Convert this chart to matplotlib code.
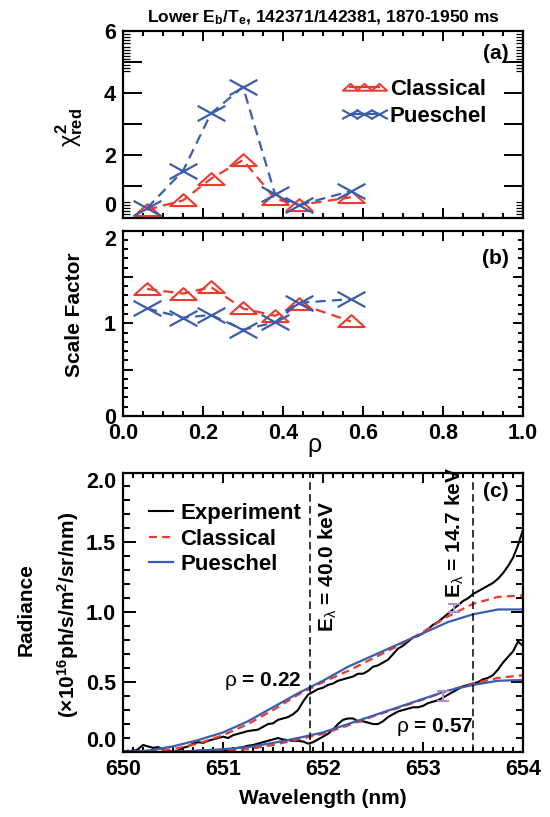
import numpy as np
import matplotlib
matplotlib.use("Agg")
import matplotlib.pyplot as plt
from matplotlib.path import Path
from matplotlib.ticker import MultipleLocator, FixedLocator, FuncFormatter
from matplotlib.lines import Line2D
from matplotlib import font_manager

# ---------------- data ----------------
rho = [0.06, 0.15, 0.22, 0.30, 0.38, 0.44, 0.57]
chi_classical = [0.25, 0.55, 1.25, 1.85, 0.60, 0.40, 0.65]
chi_pueschel = [0.30, 1.50, 3.35, 4.20, 0.75, 0.40, 0.85]
scale_classical = [1.37, 1.32, 1.39, 1.16, 1.08, 1.21, 1.02]
scale_pueschel = [1.16, 1.06, 1.09, 0.93, 1.01, 1.22, 1.26]

wl_exp = [650.00, 650.05, 650.10, 650.15, 650.20, 650.25, 650.30, 650.35, 650.40, 650.45,
          650.50, 650.55, 650.60, 650.65, 650.70, 650.75, 650.80, 650.85, 650.90, 650.95,
          651.00, 651.05, 651.10, 651.15, 651.20, 651.25, 651.30, 651.35, 651.40, 651.45,
          651.50, 651.55, 651.60, 651.65, 651.70, 651.75, 651.80, 651.85, 651.90, 651.95,
          652.00, 652.05, 652.10, 652.15, 652.20, 652.25, 652.30, 652.35, 652.40, 652.45,
          652.50, 652.55, 652.60, 652.65, 652.70, 652.75, 652.80, 652.85, 652.90, 652.95,
          653.00, 653.05, 653.10, 653.15, 653.20, 653.25, 653.30, 653.35, 653.40, 653.45,
          653.50, 653.55, 653.60, 653.65, 653.70, 653.75, 653.80, 653.85, 653.90, 653.95,
          654.00]
exp_022 = [0.00, 0.01, 0.00, 0.02, 0.05, 0.04, 0.03, 0.035, 0.02, 0.01,
           0.00, 0.01, 0.03, 0.04, 0.06, 0.07, 0.065, 0.08, 0.09, 0.10,
           0.11, 0.10, 0.12, 0.13, 0.14, 0.15, 0.155, 0.16, 0.18, 0.20,
           0.205, 0.23, 0.24, 0.25, 0.27, 0.30, 0.36, 0.41, 0.43, 0.45,
           0.46, 0.48, 0.49, 0.51, 0.52, 0.53, 0.54, 0.56, 0.56, 0.58,
           0.61, 0.62, 0.64, 0.66, 0.70, 0.74, 0.76, 0.79, 0.82, 0.83,
           0.85, 0.88, 0.91, 0.93, 0.96, 0.99, 1.02, 1.05, 1.08, 1.10,
           1.13, 1.15, 1.17, 1.19, 1.21, 1.24, 1.28, 1.33, 1.39, 1.48,
           1.59]
exp_057 = [0.00, 0.005, 0.01, 0.01, 0.005, 0.00, 0.005, 0.00, 0.00, 0.00,
           0.00, 0.00, 0.00, 0.005, 0.005, 0.01, 0.01, 0.005, 0.005, 0.01,
           0.01, 0.015, 0.02, 0.03, 0.035, 0.045, 0.05, 0.06, 0.07, 0.08,
           0.09, 0.10, 0.09, 0.085, 0.08, 0.08, 0.075, 0.06, 0.07, 0.09,
           0.11, 0.13, 0.16, 0.20, 0.23, 0.24, 0.24, 0.22, 0.22, 0.21,
           0.20, 0.20, 0.22, 0.25, 0.27, 0.29, 0.30, 0.31, 0.32, 0.32,
           0.33, 0.35, 0.36, 0.37, 0.39, 0.41, 0.43, 0.45, 0.47, 0.48,
           0.49, 0.50, 0.52, 0.53, 0.55, 0.59, 0.64, 0.68, 0.72, 0.79,
           0.76]

wl_model = [650.00, 650.25, 650.50, 650.75, 651.00, 651.25, 651.50, 651.75, 652.00,
            652.25, 652.50, 652.75, 653.00, 653.25, 653.50, 653.75, 654.00]
cls_022 = [0.00, 0.005, 0.02, 0.06, 0.12, 0.20, 0.30, 0.41, 0.50,
           0.58, 0.67, 0.76, 0.86, 0.97, 1.06, 1.11, 1.12]
pue_022 = [0.00, 0.01, 0.04, 0.085, 0.14, 0.22, 0.32, 0.42, 0.51,
           0.61, 0.69, 0.77, 0.85, 0.93, 0.985, 1.02, 1.02]
cls_057 = [0.00, 0.00, 0.00, 0.005, 0.01, 0.02, 0.05, 0.09, 0.13,
           0.19, 0.255, 0.315, 0.375, 0.44, 0.49, 0.53, 0.55]
pue_057 = [0.00, 0.00, 0.00, 0.01, 0.02, 0.035, 0.065, 0.10, 0.14,
           0.20, 0.26, 0.32, 0.38, 0.44, 0.48, 0.51, 0.515]

err_wl = [653.31, 653.20]
err_val = [1.03, 0.40]
err_size = [0.03, 0.035]

e_lambda_wl = [651.87, 653.50]
e_lambda_lbl = ["40.0", "14.7"]

# ---------------- style ----------------
names = {f.name for f in font_manager.fontManager.ttflist}
narrow = "Liberation Sans Narrow" if "Liberation Sans Narrow" in names else "Liberation Sans"
plt.rcParams['font.family'] = [narrow, 'DejaVu Sans']
plt.rcParams['font.weight'] = 'bold'
plt.rcParams['mathtext.fontset'] = 'custom'
plt.rcParams['mathtext.rm'] = narrow + ':weight=bold'
plt.rcParams['mathtext.bf'] = narrow + ':weight=bold'
plt.rcParams['mathtext.it'] = 'Liberation Sans:weight=normal'
plt.rcParams['axes.linewidth'] = 1.6

RED = '#ee3a2c'
BLUE = '#3b5dad'
FS = 15
TFS = 15.5
DASH_AB = (4.6, 2.8)
DASH_C = (3.6, 2.3)

tri = Path([(-1, -0.42), (1, -0.42), (0, 0.48), (-1, -0.42)],
           [Path.MOVETO, Path.LINETO, Path.LINETO, Path.CLOSEPOLY])
crs = Path([(-1, -0.55), (1, 0.55), (-1, 0.55), (1, -0.55)],
           [Path.MOVETO, Path.LINETO, Path.MOVETO, Path.LINETO])

fig = plt.figure(figsize=(5.5, 8.17), dpi=100)
W, H = 550.0, 817.0
def add_ax(left, top, right, bottom):
    return fig.add_axes([left / W, 1 - bottom / H, (right - left) / W, (bottom - top) / H])

axa = add_ax(123, 31, 523, 217.5)
axb = add_ax(123, 230.5, 523, 416)
axc = add_ax(123, 472.5, 523, 752)

def base_style(ax):
    ax.tick_params(which='both', direction='in', top=True, right=True, width=1.4,
                   labelsize=TFS)

# ---------- panel (a) ----------
ax = axa
ax.plot(rho, chi_classical, color=RED, lw=1.6, dashes=DASH_AB,
        marker=tri, ms=19, mfc='none', mec=RED, mew=1.5)
ax.plot(rho, chi_pueschel, color=BLUE, lw=1.6, dashes=DASH_AB,
        marker=crs, ms=20, mec=BLUE, mew=1.6)
ax.set_xlim(0, 1)
ax.set_ylim(0, 6)
ax.xaxis.set_major_locator(MultipleLocator(0.2))
ax.xaxis.set_minor_locator(MultipleLocator(0.05))
ax.yaxis.set_major_locator(MultipleLocator(1))
ax.yaxis.set_minor_locator(FixedLocator(np.concatenate([np.arange(0.1, 0.56, 0.1),
                                                         np.arange(4.7, 5.95, 0.1)])))
ax.yaxis.set_major_formatter(FuncFormatter(lambda v, p: "%d" % v if int(round(v)) % 2 == 0 else ""))
base_style(ax)
ax.tick_params(axis='x', labelbottom=False)
ax.tick_params(axis='x', which='major', length=7)
ax.tick_params(axis='x', which='minor', length=3.6)
ax.tick_params(axis='y', which='major', length=14, pad=5)
ax.tick_params(axis='y', which='minor', length=5, width=0.9)
ax.text(0.965, 0.93, '(a)', transform=ax.transAxes, ha='right', va='top', fontsize=FS)
ax.text(-0.135, 0.48, r'$\chi^2_\mathrm{red}$', transform=ax.transAxes, rotation=90,
        ha='center', va='center', fontsize=FS + 2)
ax.set_title(r'Lower E$_\mathrm{b}$/T$_\mathrm{e}$, 142371/142381, 1870-1950 ms',
             fontsize=12.5, fontweight='bold', pad=6)
hc = Line2D([], [], color=RED, lw=1.6, marker=tri, ms=11, mfc='none', mec=RED, mew=1.4)
hp = Line2D([], [], color=BLUE, lw=1.6, marker=crs, ms=12, mec=BLUE, mew=1.5)
ax.legend([hc, hp], ['Classical', 'Pueschel'], loc='upper left',
          bbox_to_anchor=(0.55, 0.745), frameon=False, numpoints=3,
          handlelength=1.9, handletextpad=0.2, labelspacing=0.3,
          borderaxespad=0, borderpad=0, prop={'size': FS + 1, 'weight': 'bold'})

# ---------- panel (b) ----------
ax = axb
ax.plot(rho, scale_classical, color=RED, lw=1.6, dashes=DASH_AB,
        marker=tri, ms=19, mfc='none', mec=RED, mew=1.5)
ax.plot(rho, scale_pueschel, color=BLUE, lw=1.6, dashes=DASH_AB,
        marker=crs, ms=20, mec=BLUE, mew=1.6)
ax.set_xlim(0, 1)
ax.set_ylim(0, 2)
ax.xaxis.set_major_locator(MultipleLocator(0.2))
ax.xaxis.set_minor_locator(MultipleLocator(0.05))
ax.yaxis.set_major_locator(MultipleLocator(0.5))
ax.yaxis.set_minor_locator(MultipleLocator(0.1))
ax.xaxis.set_major_formatter(FuncFormatter(lambda v, p: "%.1f" % v))
ax.yaxis.set_major_formatter(FuncFormatter(lambda v, p: "%d" % round(v) if abs(v - round(v)) < 1e-6 else ""))
base_style(ax)
ax.tick_params(axis='both', which='major', length=7)
ax.tick_params(axis='both', which='minor', length=3.6)
ax.tick_params(axis='y', pad=5)
ax.tick_params(axis='x', pad=5)
ax.text(0.965, 0.9, '(b)', transform=ax.transAxes, ha='right', va='top', fontsize=FS)
ax.text(-0.12, 0.545, 'Scale Factor', transform=ax.transAxes, rotation=90,
        ha='center', va='center', fontsize=FS)
ax.text(0.48, -0.165, r'$\rho$', transform=ax.transAxes, ha='center', va='center',
        fontsize=FS + 3)

# ---------- panel (c) ----------
ax = axc
le, = ax.plot(wl_exp, exp_022, color='black', lw=1.5)
ax.plot(wl_exp, exp_057, color='black', lw=1.5)
lcl, = ax.plot(wl_model, cls_022, color=RED, lw=1.6, dashes=DASH_C)
lpu, = ax.plot(wl_model, pue_022, color=BLUE, lw=1.6)
ax.plot(wl_model, cls_057, color=RED, lw=1.6, dashes=DASH_C)
ax.plot(wl_model, pue_057, color=BLUE, lw=1.6)
ax.errorbar(err_wl, err_val, yerr=err_size, fmt='none', ecolor='#b48bcb',
            elinewidth=1.5, capsize=4, capthick=1.5)
for wl, lbl in zip(e_lambda_wl, e_lambda_lbl):
    ax.axvline(wl, color='black', lw=1.1, dashes=(5, 2.8))
ax.text(652.05, 0.86, r'E$_\lambda$ = 40.0 keV', rotation=90, ha='center', va='bottom',
        fontsize=FS)
ax.text(653.32, 1.10, r'E$_\lambda$ = 14.7 keV', rotation=90, ha='center', va='bottom',
        fontsize=FS)
ax.text(651.78, 0.51, r'$\rho$ = 0.22', ha='right', va='center', fontsize=FS)
ax.text(652.73, 0.18, r'$\rho$ = 0.57', ha='left', va='center', fontsize=FS)
ax.set_xlim(650, 654)
ax.set_ylim(0, 2.0)
ax.xaxis.set_major_locator(MultipleLocator(1))
ax.xaxis.set_minor_locator(MultipleLocator(0.1))
ax.yaxis.set_major_locator(MultipleLocator(0.5))
ax.yaxis.set_minor_locator(MultipleLocator(0.1))
ax.xaxis.set_major_formatter(FuncFormatter(lambda v, p: "%d" % round(v)))
ax.yaxis.set_major_formatter(FuncFormatter(lambda v, p: "%.1f" % v))
base_style(ax)
ax.tick_params(axis='x', which='major', length=7, pad=5)
ax.tick_params(axis='x', which='minor', length=3.6)
ax.tick_params(axis='y', which='major', length=9, pad=5)
ax.tick_params(axis='y', which='minor', length=5)
ax.text(0.965, 0.965, '(c)', transform=ax.transAxes, ha='right', va='top', fontsize=FS)
ax.text(0.5, -0.165, 'Wavelength (nm)', transform=ax.transAxes, ha='center', va='center',
        fontsize=FS)
ax.text(-0.243, 0.51, 'Radiance', transform=ax.transAxes, rotation=90,
        ha='center', va='center', fontsize=FS)
ax.text(-0.138, 0.49, r'(×10$^{16}$ph/s/m$^2$/sr/nm)', transform=ax.transAxes, rotation=90,
        ha='center', va='center', fontsize=FS)
ax.legend([le, lcl, lpu], ['Experiment', 'Classical', 'Pueschel'], loc='upper left',
          bbox_to_anchor=(0.065, 0.89), frameon=False, handlelength=1.1,
          handletextpad=0.3, labelspacing=0.2, borderaxespad=0, borderpad=0,
          prop={'size': FS + 1, 'weight': 'bold'})

# shift extreme y tick labels inward, as in the reference
fig.canvas.draw()
def shift_label(ax, value, va):
    for tick in ax.yaxis.get_major_ticks():
        if abs(tick.get_loc() - value) < 1e-9:
            tick.label1.set_verticalalignment(va)
shift_label(axa, 0.0, 'bottom')
shift_label(axb, 2.0, 'top')
shift_label(axc, 0.0, 'bottom')
shift_label(axc, 2.0, 'top')

fig.savefig('out.png', dpi=100)
